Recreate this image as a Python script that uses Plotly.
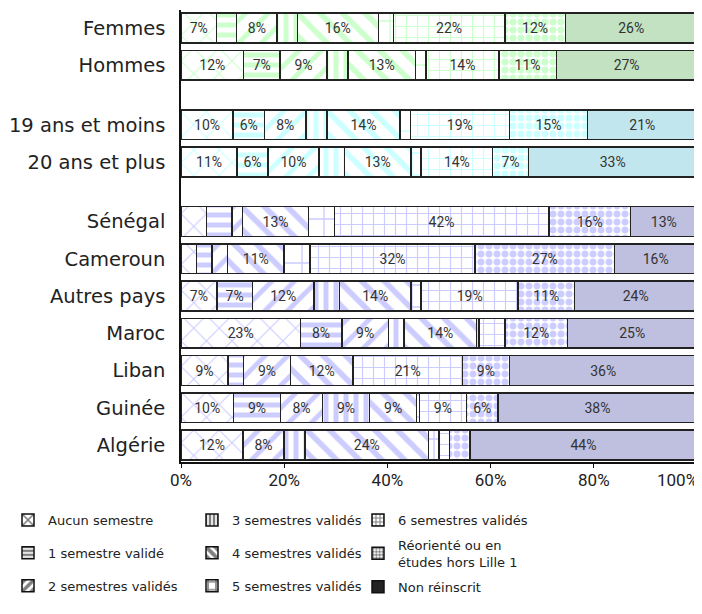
import plotly.graph_objects as go

# ---------------- data ----------------
categories = ["Femmes", "Hommes", "19 ans et moins", "20 ans et plus",
              "Sénégal", "Cameroun", "Autres pays", "Maroc", "Liban", "Guinée", "Algérie"]
group_of = [0, 0, 1, 1, 2, 2, 2, 2, 2, 2, 2]

series_names = ["Aucun semestre", "1 semestre validé", "2 semestres validés",
                "3 semestres validés", "4 semestres validés", "5 semestres validés",
                "6 semestres validés", "Réorienté ou en<br>études hors Lille 1", "Non réinscrit"]

aucun = [7, 12, 10, 11, 5, 3, 7, 23, 9, 10, 12]
sem1 = [4, 7, 6, 6, 5, 3, 7, 8, 3, 9, 0]
sem2 = [8, 9, 8, 10, 2, 3, 12, 9, 9, 8, 8]
sem3 = [4, 4, 4, 5, 0, 0, 5, 3, 0, 9, 4]
sem4 = [16, 13, 14, 13, 13, 11, 14, 14, 12, 9, 24]
sem5 = [3, 2, 2, 2, 5, 5, 2, 0.5, 0, 0.5, 2]
sem6 = [22, 14, 19, 14, 42, 32, 19, 5, 21, 9, 2]
reoriente = [12, 11, 15, 7, 16, 27, 11, 12, 9, 6, 4]
non_reinscrit = [26, 27, 21, 33, 13, 16, 24, 25, 36, 38, 44]

tick_values = [0, 20, 40, 60, 80, 100]
tick_labels = ["0%", "20%", "40%", "60%", "80%", "100%"]

# ---------------- styles ----------------
pattern_fg = ["#ccffcc", "#ccffff", "#ccccff"]
solid_fill = ["#c2e2c2", "#c2e6ee", "#bfbfdf"]
# (shape, size, solidity) per series
pattern_style = [("x", 18, 0.12), ("-", 10, 0.5), ("/", 16, 0.3), ("|", 10, 0.5),
                 ("\\", 16, 0.35), ("+", 22, 0.12), ("+", 11, 0.2), (".", 8, 0.6), ("", 8, 0.3)]
legend_of = ["legend", "legend", "legend", "legend2", "legend2", "legend2",
             "legend3", "legend3", "legend3"]

all_series = [aucun, sem1, sem2, sem3, sem4, sem5, sem6, reoriente, non_reinscrit]

# y positions: one slot per row, extra gap between groups
y_pos = [i + 0.6 * g for i, g in enumerate(group_of)]

# the last tick label is drawn right-aligned on its tick (as in the reference)
tick_text = tick_labels[:-1] + [""]

W, H = 694, 606
TICK_FONT = dict(family="Roboto", size=17, color="#222222")

fig = go.Figure()
for k, (name, vals) in enumerate(zip(series_names, all_series)):
    shape, size, sol = pattern_style[k]
    fg = [pattern_fg[g] for g in group_of]
    texts = [f"{v:g}%" if v >= 6 else "" for v in vals]
    if shape == "":
        marker = dict(color=[solid_fill[g] for g in group_of],
                      line=dict(color="#222222", width=1.5))
    else:
        marker = dict(color=fg,
                      pattern=dict(shape=shape, size=size, solidity=sol,
                                   fgcolor=fg, bgcolor="white", fillmode="replace"),
                      line=dict(color="#222222", width=1.5))
    fig.add_trace(go.Bar(
        x=vals, y=y_pos, orientation="h", width=0.8, name=name,
        marker=marker, text=texts, textposition="inside",
        insidetextanchor="middle", textangle=0,
        textfont=dict(family="Roboto", size=14, color="#333333"),
        showlegend=False, hoverinfo="skip"))

# legend entries (black patterns); their single bar sits far outside the fixed y range
for k, name in enumerate(series_names):
    shape, size, sol = pattern_style[k]
    if shape == "":
        marker = dict(color="#222222", line=dict(color="#111111", width=1.5))
    else:
        marker = dict(color="black",
                      pattern=dict(shape=shape, size=max(4, size // 2), solidity=min(0.6, sol + 0.25),
                                   fgcolor="black", bgcolor="white"),
                      line=dict(color="#111111", width=1.5))
    fig.add_trace(go.Bar(x=[1], y=[-50], orientation="h", width=0.8, name=name,
                         marker=marker, legend=legend_of[k], legendgroup=f"g{k}",
                         showlegend=True, hoverinfo="skip"))

legend_common = dict(orientation="v", yref="container", xref="container",
                     yanchor="top", xanchor="left", y=1 - 497 / H,
                     font=dict(family="DejaVu Sans", size=13, color="#222222"),
                     bgcolor="rgba(0,0,0,0)", itemclick=False, itemdoubleclick=False)

fig.add_annotation(x=tick_values[-1], xref="x", y=0, yref="paper",
                   text=tick_labels[-1], showarrow=False,
                   xanchor="right", yanchor="top", xshift=3, yshift=-6,
                   font=TICK_FONT)

fig.update_layout(
    width=W, height=H,
    margin=dict(l=173, r=5, t=2, b=152, autoexpand=False),
    paper_bgcolor="white", plot_bgcolor="white",
    barmode="stack", barnorm="percent",
    showlegend=True,
    legend=dict(x=0.0, tracegroupgap=13, **legend_common),
    legend2=dict(x=184 / W, tracegroupgap=13, **legend_common),
    legend3=dict(x=350 / W, tracegroupgap=5, **legend_common),
    uniformtext=dict(minsize=14, mode="show"),
    xaxis=dict(range=[0, 100], tickvals=tick_values, ticktext=tick_text,
               showgrid=False, zeroline=False, showline=True, linecolor="#111111",
               linewidth=1.5, ticks="outside", ticklen=4, tickcolor="#111111",
               ticklabelstandoff=-2, automargin=False,
               tickfont=TICK_FONT),
    yaxis=dict(range=[11.657, -0.483], tickvals=y_pos, ticktext=categories,
               showgrid=False, zeroline=False, showline=True, linecolor="#111111",
               linewidth=1.5, ticks="", ticklabelstandoff=10, automargin=False,
               tickfont=dict(family="DejaVu Sans", size=19.5, color="#222222")),
)

fig.write_html("out.html")
